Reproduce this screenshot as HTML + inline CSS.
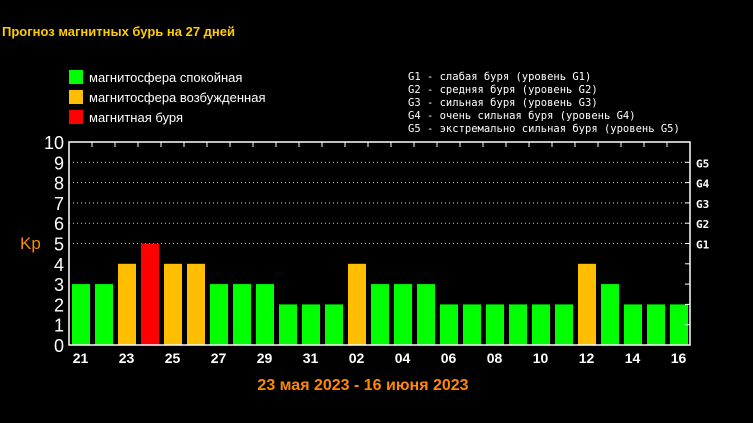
<!DOCTYPE html>
<html><head><meta charset="utf-8"><style>
body{margin:0;background:#000;width:753px;height:418px;overflow:hidden;font-family:"Liberation Sans",sans-serif}
</style></head><body>
<svg width="753" height="418" xmlns="http://www.w3.org/2000/svg">
<text x="2" y="36" fill="#ffcc00" font-size="13" font-weight="bold">Прогноз магнитных бурь на 27 дней</text>
<g font-size="13" fill="#fff">
<rect x="69" y="70" width="14" height="14" fill="#00ff00"/>
<text x="89" y="82">магнитосфера спокойная</text>
<rect x="69" y="90" width="14" height="14" fill="#ffbf00"/>
<text x="89" y="102">магнитосфера возбужденная</text>
<rect x="69" y="110" width="14" height="14" fill="#ff0000"/>
<text x="89" y="122">магнитная буря</text>
</g>
<g font-size="10.5" fill="#fff" font-family="DejaVu Sans Mono, monospace">
<text x="408" y="80">G1 - слабая буря (уровень G1)</text>
<text x="408" y="93">G2 - средняя буря (уровень G2)</text>
<text x="408" y="106">G3 - сильная буря (уровень G3)</text>
<text x="408" y="119">G4 - очень сильная буря (уровень G4)</text>
<text x="408" y="132">G5 - экстремально сильная буря (уровень G5)</text>
</g>
<text x="20" y="249" fill="#ff8800" font-size="17">Kp</text>
<g id="grid"></g>
<g id="bars"></g>
<g id="axes"></g>
<text x="363" y="390" fill="#ff8800" font-size="16" font-weight="bold" text-anchor="middle">23 мая 2023 - 16 июня 2023</text>
</svg>
<script>
const days=[21,22,23,24,25,26,27,28,29,30,31,1,2,3,4,5,6,7,8,9,10,11,12,13,14,15,16];
const kp=[3,3,4,5,4,4,3,3,3,2,2,2,4,3,3,3,2,2,2,2,2,2,4,3,2,2,2];
const yTicks=[0,1,2,3,4,5,6,7,8,9,10];
const gLabels=["G1","G2","G3","G4","G5"];
const L=69,R=690,T=142,B=345,slot=(R-L)/days.length;
const y=v=>B-(B-T)*v/10;
const x=i=>L+slot*i;
const NS="http://www.w3.org/2000/svg";
function mk(t,a,p){const e=document.createElementNS(NS,t);for(const k in a)e.setAttribute(k,a[k]);document.getElementById(p).appendChild(e);return e;}
yTicks.forEach(v=>{
 if(v>=5&&v<=9){const l=mk('line',{x1:L,x2:R,y1:y(v),y2:y(v),stroke:'#ccc','stroke-dasharray':'1 3'},'grid');
 
 }
 const t=mk('text',{x:64,y:y(v)+7,fill:'#fff','font-size':'18','text-anchor':'end'},'axes');t.textContent=v;
 
 
 mk('line',{x1:R-5,x2:R,y1:y(v),y2:y(v),stroke:'#fff'},'axes');
});
gLabels.forEach((g,i)=>{const t=mk('text',{x:696,y:y(5+i)+5,fill:'#fff','font-size':'11','font-weight':'bold','font-family':'DejaVu Sans Mono, monospace'},'axes');t.textContent=g;
 
 });
kp.forEach((v,i)=>{
 const c=v>=5?'#ff0000':v==4?'#ffbf00':'#00ff00';
 const r=mk('rect',{x:x(i)+3,y:y(v),width:slot-5,height:B-y(v),fill:c},'bars');
 
 
 mk('line',{x1:x(i),x2:x(i),y1:T,y2:T+5,stroke:'#fff'},'axes');
 if(i%2==0){const t=mk('text',{x:x(i)+slot/2,y:363,fill:'#fff','font-size':'14','font-weight':'bold','text-anchor':'middle'},'axes');t.textContent=String(days[i]).padStart(2,'0');
 
 }
});
const f=mk('rect',{x:L,y:T,width:R-L,height:B-T,fill:'none',stroke:'#fff','stroke-width':'1.5'},'axes');


</script>
</body></html>
